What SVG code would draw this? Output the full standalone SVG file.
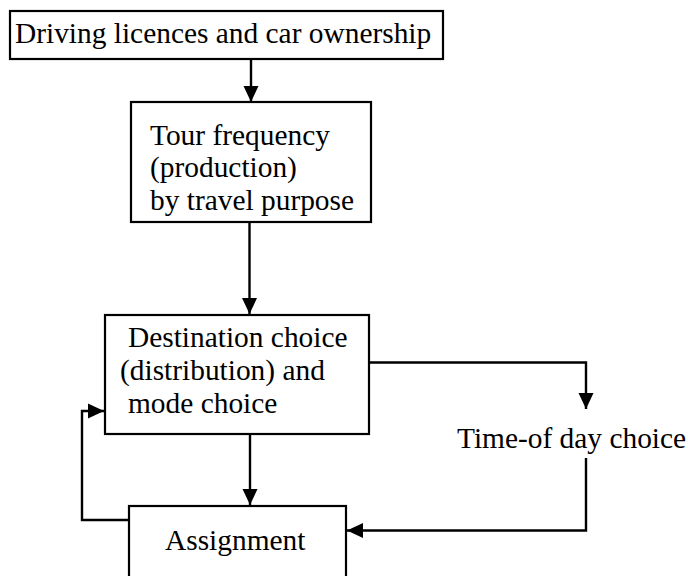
<svg xmlns="http://www.w3.org/2000/svg" width="688" height="576" viewBox="0 0 688 576">
<style>
.box{fill:#fff;stroke:#000;stroke-width:2.2}
.t{font-family:"Liberation Serif","Times New Roman",serif;font-size:29.4px;fill:#000}
.c{fill:none;stroke:#000;stroke-width:2.4}
</style>
<defs>
<marker id="ah" markerUnits="userSpaceOnUse" markerWidth="16" markerHeight="16" viewBox="0 0 16 16" refX="16" refY="8" orient="auto">
<path d="M0,0.5 L16,8 L0,15.5 Z" fill="#000"/>
</marker>
</defs>
<rect width="688" height="576" fill="#fff"/>
<g id="connectors">
<path class="c" d="M251,59 V102" marker-end="url(#ah)"/>
<path class="c" d="M249.5,222 V314" marker-end="url(#ah)"/>
<path class="c" d="M250,434 V505" marker-end="url(#ah)"/>
<path class="c" d="M129,520 H82 V411 H104" marker-end="url(#ah)"/>
<path class="c" d="M369,362.5 H586 V409" marker-end="url(#ah)"/>
<path class="c" d="M586,458 V530.5 H347" marker-end="url(#ah)"/>
</g>
<g id="n1">
<rect class="box" x="10" y="11" width="433" height="48"/>
<text class="t" x="15" y="43">Driving licences and car ownership</text>
</g>
<g id="n2">
<rect class="box" x="131" y="102" width="240" height="120"/>
<text class="t" x="150" y="145">Tour frequency</text>
<text class="t" x="150" y="177">(production)</text>
<text class="t" x="150" y="210">by travel purpose</text>
</g>
<g id="n3">
<rect class="box" x="105" y="315" width="264" height="119"/>
<text class="t" x="128" y="347">Destination choice</text>
<text class="t" x="120" y="380">(distribution) and</text>
<text class="t" x="128" y="413">mode choice</text>
</g>
<g id="n4">
<text class="t" x="457" y="448">Time-of day choice</text>
</g>
<g id="n5">
<rect class="box" x="129" y="506" width="217" height="75"/>
<text class="t" x="165" y="550">Assignment</text>
</g>
</svg>
